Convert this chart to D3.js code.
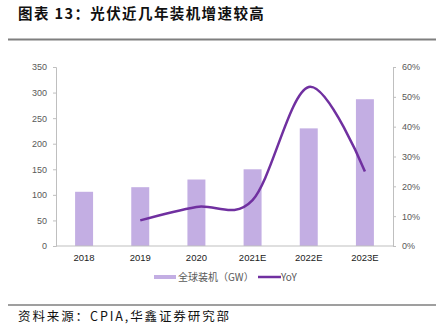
<!DOCTYPE html>
<html><head><meta charset="utf-8">
<script src="https://cdn.jsdelivr.net/npm/d3@7"></script>
<style>body{margin:0;background:#fff}svg{display:block}</style>
</head><body>
<script>
const categories = ["2018","2019","2020","2021E","2022E","2023E"];
const installs = [106, 115, 130, 150, 230, 287];
const yoyCats = ["2019","2020","2021E","2022E","2023E"];
const yoy = [8.6, 13.1, 15.4, 53.3, 25.0];
const leftTicks = [0,50,100,150,200,250,300,350];
const rightTicks = [0,10,20,30,40,50,60];

const W=436,H=330;
const svg=d3.select("body").append("svg").attr("width",W).attr("height",H);
const font='"Noto Sans CJK SC","Liberation Sans",sans-serif';

svg.append("text").attr("x",18).attr("y",19).attr("font-family",font).attr("font-size",14.5).attr("font-weight","bold").attr("letter-spacing",1.4).attr("fill","#111").text("图表 13：光伏近几年装机增速较高");
svg.append("line").attr("x1",8).attr("x2",436).attr("y1",39.5).attr("y2",39.5).attr("stroke","#7f7f7f").attr("stroke-width",2);
svg.append("line").attr("x1",8).attr("x2",436).attr("y1",305).attr("y2",305).attr("stroke","#7f7f7f").attr("stroke-width",1.5);
svg.append("text").attr("x",18).attr("y",321).attr("font-family",font).attr("font-size",12.5).attr("letter-spacing",1.9).attr("fill","#111").text("资料来源：CPIA,华鑫证券研究部");

const x0=56,x1=393,yTop=67,yBot=246;
const x=d3.scaleBand().domain(categories).range([x0,x1]).paddingInner(0.68).paddingOuter(0.34);
const yL=d3.scaleLinear().domain([0,350]).range([yBot,yTop]);
const yR=d3.scaleLinear().domain([0,60]).range([yBot,yTop]);

svg.selectAll("rect.bar").data(installs).enter().append("rect")
  .attr("x",(d,i)=>x(categories[i])).attr("width",x.bandwidth())
  .attr("y",d=>yL(d)).attr("height",d=>yBot-yL(d)).attr("fill","#c3aee3");

const axL=svg.append("g").attr("transform",`translate(${x0},0)`)
  .call(d3.axisLeft(yL).tickValues(leftTicks).tickSize(3).tickPadding(6));
const axR=svg.append("g").attr("transform",`translate(${x1},0)`)
  .call(d3.axisRight(yR).tickValues(rightTicks).tickSize(3).tickPadding(6).tickFormat(d=>d+"%"));
[axL,axR].forEach(a=>{a.select(".domain").attr("stroke","#bfbfbf");a.selectAll(".tick line").attr("stroke","#bfbfbf");
  a.selectAll("text").attr("fill","#595959").attr("font-size",9).attr("font-family",'"Liberation Sans",Arial,sans-serif');});
const axB=svg.append("g").attr("transform",`translate(0,${yBot})`)
  .call(d3.axisBottom(x).tickSize(0).tickPadding(8));
axB.select(".domain").attr("stroke","#bfbfbf").attr("d",`M${x0},0H${x1}`);
axB.selectAll("text").attr("fill","#222").attr("font-size",9.5).attr("font-family",'"Liberation Sans",Arial,sans-serif');

const line=d3.line().x((d,i)=>x(yoyCats[i])+x.bandwidth()/2).y(d=>yR(d)).curve(d3.curveCardinal.tension(0));
svg.append("path").datum(yoy).attr("d",line).attr("fill","none").attr("stroke","#7030a0").attr("stroke-width",2.5);

const lg=svg.append("g");
lg.append("rect").attr("x",154).attr("y",275).attr("width",22).attr("height",4).attr("fill","#c3aee3");
lg.append("text").attr("x",178).attr("y",280.5).attr("font-family",font).attr("font-size",10).attr("fill","#595959").text("全球装机（GW）");
lg.append("line").attr("x1",258).attr("x2",281).attr("y1",277).attr("y2",277).attr("stroke","#7030a0").attr("stroke-width",2.5);
lg.append("text").attr("x",281).attr("y",280.5).attr("font-family",font).attr("font-size",10).attr("fill","#595959").text("YoY");
</script>
</body></html>
